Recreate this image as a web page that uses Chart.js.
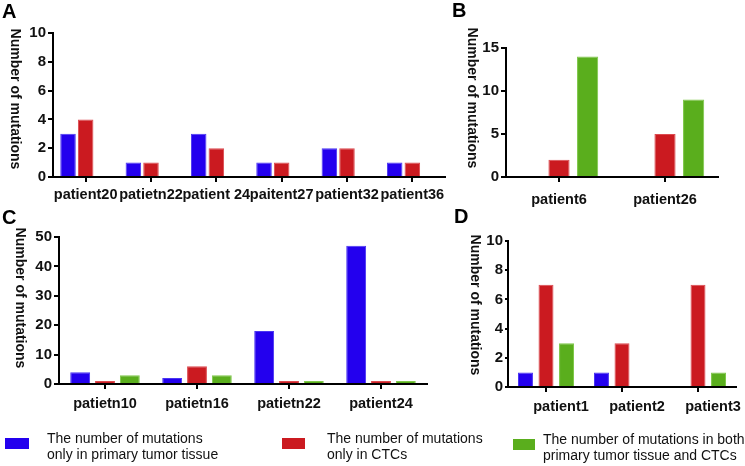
<!DOCTYPE html>
<html>
<head>
<meta charset="utf-8">
<script src="https://cdn.jsdelivr.net/npm/chart.js@4/dist/chart.umd.min.js"></script>
<style>
  body { margin: 0; background: #fff; font-family: "Liberation Sans", Arial, sans-serif; }
  #wrap { position: relative; width: 745px; height: 466px; overflow: hidden; }
  .panel { position: absolute; }
  .letter { position: absolute; font-weight: bold; font-size: 20px; color: #000; line-height: 1; }
  .sw { position: absolute; height: 11px; }
  .lt { position: absolute; font-size: 14px; line-height: 16px; color: #111; white-space: nowrap; }
</style>
</head>
<body>
<div id="wrap">
  <div class="panel" style="left:0;top:0;width:450px;height:210px"><canvas id="chartA"></canvas></div>
  <div class="panel" style="left:440px;top:0;width:305px;height:210px"><canvas id="chartB"></canvas></div>
  <div class="panel" style="left:0;top:200px;width:435px;height:220px"><canvas id="chartC"></canvas></div>
  <div class="panel" style="left:440px;top:200px;width:305px;height:220px"><canvas id="chartD"></canvas></div>

  <div class="letter" style="left:2px;top:1px">A</div>
  <div class="letter" style="left:452px;top:0px">B</div>
  <div class="letter" style="left:2px;top:207px">C</div>
  <div class="letter" style="left:454px;top:206px">D</div>

  <div class="sw" style="left:5px;top:438px;width:24px;background:#2300EE"></div>
  <div class="lt" style="left:47px;top:430px">The number of mutations<br>only in primary tumor tissue</div>
  <div class="sw" style="left:282px;top:438px;width:23px;background:#CB1A20"></div>
  <div class="lt" style="left:327px;top:430px">The number of mutations<br>only in CTCs</div>
  <div class="sw" style="left:513px;top:439px;width:22px;background:#5AAE1D"></div>
  <div class="lt" style="left:543px;top:431px">The number of mutations in both<br>primary tumor tissue and CTCs</div>
</div>
<script>
const seriesNames = [
  'The number of mutations only in primary tumor tissue',
  'The number of mutations only in CTCs',
  'The number of mutations in both primary tumor tissue and CTCs'
]
const colors = ['#2300EE', '#CB1A20', '#5AAE1D']
const rims = ['#4a36f2', '#dc4a4f', '#7fc84a']

// panel A
const labelsA = ['patient20', 'patietn22', 'patient 24', 'paitent27', 'patient32', 'patient36']
const primaryA = [3, 1, 3, 1, 2, 1]
const ctcA = [4, 1, 2, 1, 2, 1]
const bothA = [0, 0, 0, 0, 0, 0]
const ticksA = [0, 2, 4, 6, 8, 10]

// panel B
const labelsB = ['patient6', 'patient26']
const primaryB = [0, 0]
const ctcB = [2, 5]
const bothB = [14, 9]
const ticksB = [0, 5, 10, 15]

// panel C
const labelsC = ['patietn10', 'patietn16', 'patietn22', 'patient24']
const primaryC = [4, 2, 18, 47]
const ctcC = [1, 6, 1, 1]
const bothC = [3, 3, 1, 1]
const ticksC = [0, 10, 20, 30, 40, 50]

// panel D
const labelsD = ['patient1', 'patient2', 'patient3']
const primaryD = [1, 1, 0]
const ctcD = [7, 3, 7]
const bothD = [3, 0, 1]
const ticksD = [0, 2, 4, 6, 8, 10]

const FONT = '"Liberation Sans", Arial, sans-serif'

// y title reads top-to-bottom, so draw it ourselves
const sideTitle = {
  id: 'sideTitle',
  afterDraw(chart, args, opts) {
    const c = chart.ctx
    c.save()
    c.translate(opts.x, opts.y)
    c.rotate(Math.PI / 2)
    c.font = 'bold 14px ' + FONT
    c.fillStyle = '#111'
    c.textAlign = 'center'
    c.textBaseline = 'middle'
    c.fillText('Number of mutations', 0, 0)
    c.restore()
  }
}

function makeChart(id, labels, data, yTicks, o) {
  const datasets = data.map((d, i) => ({
    label: seriesNames[i],
    data: d,
    backgroundColor: colors[i],
    borderColor: rims[i],
    borderWidth: 1,
    categoryPercentage: 0.81,
    barPercentage: o.barPct
  }))
  return new Chart(document.getElementById(id), {
    type: 'bar',
    data: { labels: labels, datasets: datasets },
    plugins: [sideTitle],
    options: {
      responsive: true,
      maintainAspectRatio: false,
      animation: false,
      layout: { padding: { top: o.top, right: o.right, left: 0, bottom: 0 } },
      plugins: {
        legend: { display: false },
        tooltip: { enabled: false },
        sideTitle: { x: o.tx, y: o.ty }
      },
      scales: {
        x: {
          grid: { display: true, drawOnChartArea: false, offset: false, tickLength: 5, color: '#000', lineWidth: 2 },
          border: { display: true, color: '#000', width: 2 },
          ticks: { color: '#111', font: { family: FONT, size: 14.5, weight: 'bold' }, padding: o.xpad, labelOffset: o.lo || 0, maxRotation: 0, autoSkip: false },
          afterFit(s) { s.height = o.xh }
        },
        y: {
          min: 0,
          max: yTicks[yTicks.length - 1],
          afterBuildTicks(s) { s.ticks = yTicks.map(v => ({ value: v })) },
          grid: { display: true, drawOnChartArea: false, tickLength: o.ytl || 5, color: '#000', lineWidth: 2 },
          border: { display: true, color: '#000', width: 2 },
          ticks: { color: '#111', font: { family: FONT, size: 15, weight: 'bold' }, padding: 2 },
          afterFit(s) { s.width = o.yw }
        }
      }
    }
  })
}

makeChart('chartA', labelsA, [primaryA, ctcA, bothA], ticksA,
  { barPct: 0.88, top: 33, right: 5, xh: 33, yw: 53, xpad: 4, tx: 15, ty: 99 })
makeChart('chartB', labelsB, [primaryB, ctcB, bothB], ticksB,
  { barPct: 0.74, top: 48, right: 27, xh: 33, yw: 66, xpad: 9, tx: 32, ty: 98 })
makeChart('chartC', labelsC, [primaryC, ctcC, bothC], ticksC,
  { barPct: 0.8, top: 37, right: 8, xh: 36, yw: 59, xpad: 6, tx: 20, ty: 98 })
makeChart('chartD', labelsD, [primaryD, ctcD, bothD], ticksD,
  { barPct: 0.73, top: 41, right: 9, xh: 33, yw: 68, xpad: 6, lo: 15, ytl: 3, tx: 35, ty: 105 })
</script>
</body>
</html>
